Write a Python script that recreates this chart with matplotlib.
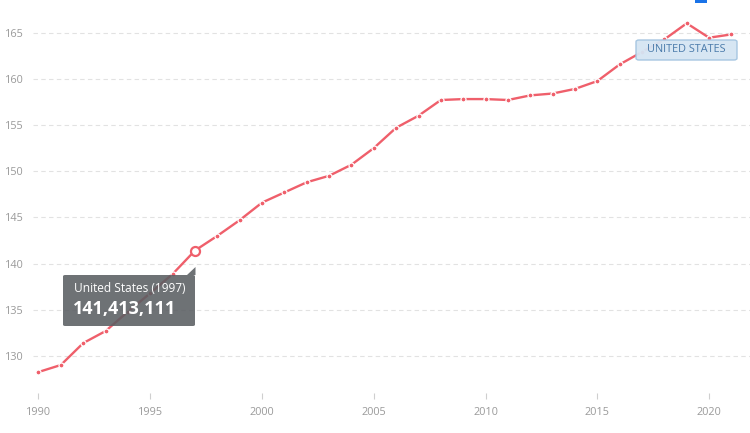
import matplotlib
matplotlib.use("Agg")
import matplotlib.pyplot as plt
from matplotlib.patches import FancyBboxPatch, Polygon, Rectangle

plt.rcParams["font.family"] = ["Open Sans", "DejaVu Sans"]

# Labor force, United States (millions)
years = list(range(1990, 2022))
values = [128.27, 129.03, 131.4, 132.7, 134.8, 136.8, 138.87, 141.413, 143.0, 144.7,
          146.6, 147.7, 148.8, 149.5, 150.7, 152.5, 154.7, 156.0, 157.7, 157.8,
          157.8, 157.7, 158.2, 158.4, 158.9, 159.75, 161.55, 162.9, 164.26, 166.0,
          164.44, 164.8]
x_ticks = [1990, 1995, 2000, 2005, 2010, 2015, 2020]
y_ticks = [130, 135, 140, 145, 150, 155, 160, 165]
hover_year = 1997
hover_label = "United States (1997)"
hover_value = "141,413,111"
series_name = "UNITED STATES"

LINE = "#ef5f6b"
GREY = "#9a9a9a"

fig = plt.figure(figsize=(7.5, 4.33), dpi=100)
ax = fig.add_axes([33 / 750, 1 - 393 / 433, 717 / 750, 393 / 433])

ax.plot(years, values, color=LINE, lw=1.7, marker="o", ms=3.6,
        mfc=LINE, mec="white", mew=0.9, zorder=3, solid_joinstyle="round")
hi = years.index(hover_year)
ax.plot(years[hi], values[hi], marker="o", ms=6.5, mfc="white", mec=LINE,
        mew=1.6, zorder=4)

ax.set_xlim(1989.754, 2021.83)
ax.set_ylim(126.0, 168.52)
ax.set_xticks(x_ticks)
ax.set_yticks(y_ticks)
ax.tick_params(axis="x", length=4, color="#cfcfcf", labelcolor=GREY,
               labelsize=7.8, pad=6)
ax.tick_params(axis="y", length=0, labelcolor=GREY, labelsize=7.8, pad=7)
ax.grid(axis="y", color="#e2e2e2", linestyle=(0, (4, 3)), linewidth=0.8)
for s in ax.spines.values():
    s.set_visible(False)

# tooltip
tip = FancyBboxPatch((63 / 750, 1 - 326 / 433), 132 / 750, 51 / 433,
                     boxstyle="round,pad=0,rounding_size=0.003",
                     transform=fig.transFigure, fc="#5a5e62", ec="none",
                     alpha=0.88, zorder=5)
fig.patches.append(tip)
notch = Polygon([(187 / 750, 1 - 275 / 433), (195.5 / 750, 1 - 267 / 433),
                 (195.5 / 750, 1 - 275 / 433)], closed=True,
                transform=fig.transFigure, fc="#5a5e62", ec="none",
                alpha=0.88, zorder=5)
fig.patches.append(notch)
fig.text(74 / 750, 1 - 288 / 433, hover_label, color="white", fontsize=8.6,
         va="center", ha="left", zorder=6)
fig.text(73 / 750, 1 - 309 / 433, hover_value, color="white", fontsize=13,
         fontweight="bold", va="center", ha="left", zorder=6)

# series label
lab = FancyBboxPatch((636 / 750, 1 - 60 / 433), 101 / 750, 20 / 433,
                     boxstyle="round,pad=0,rounding_size=0.004",
                     transform=fig.transFigure, fc="#d5e5f3", ec="#a3c4e0",
                     lw=1, alpha=0.95, zorder=5)
fig.patches.append(lab)
fig.text(686.5 / 750, 1 - 50 / 433, series_name, color="#4b7bab", fontsize=7.8,
         va="center", ha="center", zorder=6)

# small blue marker at the top edge
fig.patches.append(Rectangle((695 / 750, 1 - 3 / 433), 12 / 750, 3 / 433,
                             transform=fig.transFigure, fc="#1a73e8", ec="none"))

fig.savefig("out.png", dpi=100)
